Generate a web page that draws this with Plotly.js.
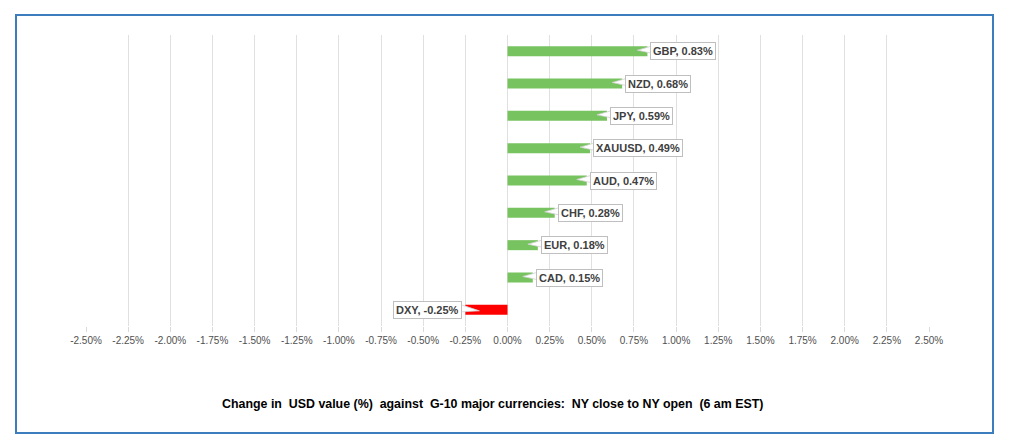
<!DOCTYPE html>
<html>
<head>
<meta charset="utf-8">
<script src="https://cdn.plot.ly/plotly-3.0.1.min.js"></script>
<style>
html,body{margin:0;padding:0;background:#fff;}
#chart{width:1024px;height:442px;}
</style>
</head>
<body>
<div id="chart"></div>
<script>
// Data (top to bottom)
const categories = ["GBP", "NZD", "JPY", "XAUUSD", "AUD", "CHF", "EUR", "CAD", "DXY"];
const values = [0.83, 0.68, 0.59, 0.49, 0.47, 0.28, 0.18, 0.15, -0.25];
const tickValues = [-2.5, -2.25, -2.0, -1.75, -1.5, -1.25, -1.0, -0.75, -0.5, -0.25, 0, 0.25, 0.5, 0.75, 1.0, 1.25, 1.5, 1.75, 2.0, 2.25, 2.5];
const tickLabels = tickValues.map(v => v.toFixed(2) + "%");
const chartTitle = "Change in&nbsp; USD value (%)&nbsp; against&nbsp; G-10 major currencies:&nbsp; NY close to NY open&nbsp; (6 am EST)";

const GREEN = "#77c35f", RED = "#ff0000";
const colors = values.map(v => v < 0 ? RED : GREEN);

const trace = {
  type: "bar",
  orientation: "h",
  y: categories,
  x: values,
  width: 0.31,
  marker: {color: colors, line: {width: 0}},
  hoverinfo: "skip"
};

const L = 86, R = 929, T = 35, B = 326;
const pw = R - L, ph = B - T;

const annotations = categories.map((c, i) => {
  const v = values[i];
  const pos = v >= 0;
  return {
    x: v, y: c, xref: "x", yref: "y",
    text: "<b>" + c + ", " + v.toFixed(2) + "%</b>",
    showarrow: false,
    xanchor: pos ? "left" : "right",
    yanchor: "middle",
    xshift: pos ? 3 : -3,
    bgcolor: "#ffffff",
    bordercolor: "#bfbfbf",
    borderwidth: 1,
    borderpad: 2,
    font: {family: "Liberation Sans, Arial, sans-serif", size: 11, color: "#404040"}
  };
});

annotations.push({
  xref: "paper", yref: "paper",
  x: (492 - L) / pw, y: (B - 404) / ph,
  xanchor: "center", yanchor: "middle",
  showarrow: false,
  text: "<b>" + chartTitle + "</b>",
  font: {family: "Liberation Sans, Arial, sans-serif", size: 12.4, color: "#000000"}
});

// callout wedges
const shapes = categories.map((c, i) => {
  const v = values[i];
  const pos = v >= 0;
  const path = pos ? "M -10 1 L 4 5 L 4 -2 Z" : "M 14 -1 L -4 5 L -4 -2 Z";
  return {
    type: "path", xref: "x", yref: "y",
    xsizemode: "pixel", ysizemode: "pixel",
    xanchor: v, yanchor: c,
    path: path,
    fillcolor: "#ffffff",
    line: {color: "#d0d0d0", width: 0.8},
    layer: "above"
  };
});

// outer border
shapes.push({
  type: "rect", xref: "paper", yref: "paper",
  x0: (16 - L) / pw, x1: (993 - L) / pw,
  y0: (B - 433) / ph, y1: (B - 15) / ph,
  line: {color: "#3b7dbd", width: 2},
  fillcolor: "rgba(0,0,0,0)",
  layer: "below"
});

const layout = {
  width: 1024, height: 442,
  margin: {l: L, r: 1024 - R, t: T, b: 442 - B},
  paper_bgcolor: "#ffffff",
  plot_bgcolor: "#ffffff",
  showlegend: false,
  xaxis: {
    range: [-2.5, 2.5],
    tickmode: "array",
    tickvals: tickValues,
    ticktext: tickLabels,
    showgrid: true,
    gridcolor: "#e0e0e0",
    gridwidth: 1,
    zeroline: false,
    showline: false,
    ticks: "outside",
    ticklen: 5,
    tickcolor: "#d9d9d9",
    tickfont: {family: "Liberation Sans, Arial, sans-serif", size: 10, color: "#505050"},
    fixedrange: true
  },
  yaxis: {
    type: "category",
    autorange: "reversed",
    showticklabels: false,
    showgrid: false,
    zeroline: false,
    showline: false,
    ticks: "",
    fixedrange: true
  },
  annotations: annotations,
  shapes: shapes
};

Plotly.newPlot("chart", [trace], layout, {displayModeBar: false, staticPlot: true});
</script>
</body>
</html>
